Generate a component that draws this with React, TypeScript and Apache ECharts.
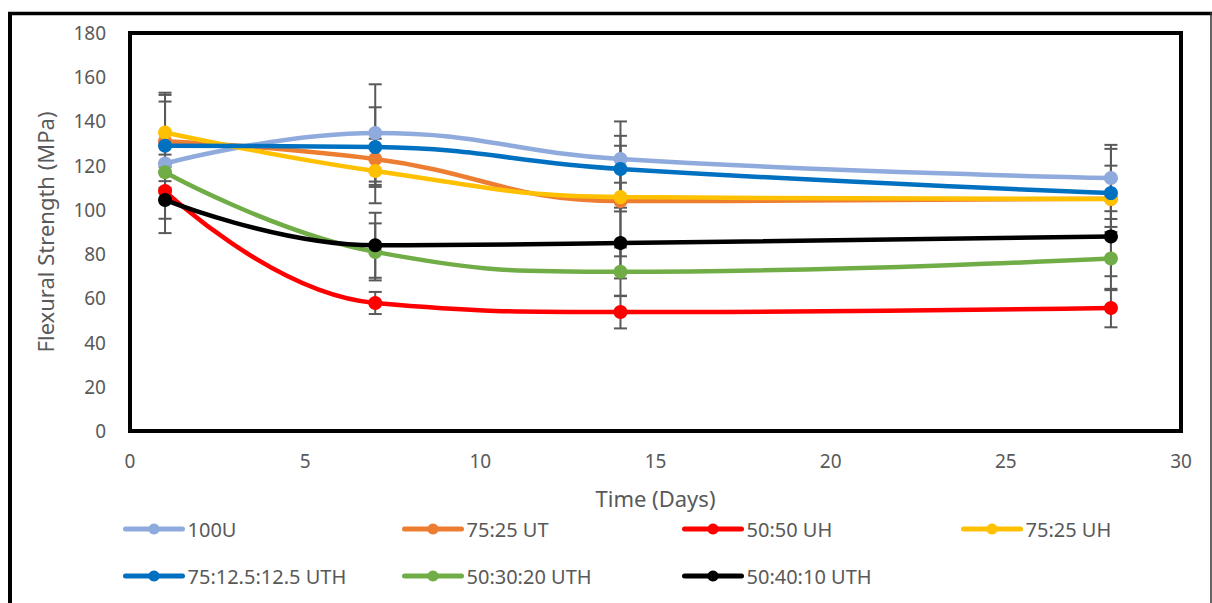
import React, { useEffect, useRef } from "react";
import * as echarts from "echarts";

const days = [1, 7, 14, 28];
const seriesNames = ["100U", "75:25 UT", "50:50 UH", "75:25 UH", "75:12.5:12.5 UTH", "50:30:20 UTH", "50:40:10 UTH"];
const colors = ["#8FAADC", "#ED7D31", "#FF0000", "#FFC000", "#0070C0", "#70AD47", "#000000"];

const s100U = [121, 134.8, 123, 114.4];
const s7525UT = [131, 123, 104, 105];
const s5050UH = [108.5, 57.9, 53.8, 55.6];
const s7525UH = [135, 117.6, 105.8, 104.9];
const s75125UTH = [129, 128.4, 118.5, 107.6];
const s503020UTH = [117, 81, 72, 78];
const s504010UTH = [104.5, 84, 85, 88];

const e100U = [8, 22, 17, 15];
const e7525UT = [21, 11.7, 25, 15];
const e5050UH = [12.5, 5, 7.4, 8.7];
const e7525UH = [18, 14.6, 6.5, 9];
const e75125UTH = [20, 18, 15, 20];
const e503020UTH = [8, 12.9, 11, 14.3];
const e504010UTH = [15, 14.7, 16, 18];

const values = [s100U, s7525UT, s5050UH, s7525UH, s75125UTH, s503020UTH, s504010UTH];
const errors = [e100U, e7525UT, e5050UH, e7525UH, e75125UTH, e503020UTH, e504010UTH];

const yTicks = { min: 0, max: 180, interval: 20 };
const xTicks = { min: 0, max: 30, interval: 5 };

const legendPos = [
  [123, 519], [402, 519], [682, 519], [961, 519],
  [123, 566], [402, 566], [682, 566],
];

export default function App() {
  const ref = useRef<HTMLDivElement>(null);
  useEffect(() => {
    document.body.style.margin = "0";
    const chart = echarts.init(ref.current!, undefined, { renderer: "svg" });
    const font = "Noto Sans";
    const textColor = "#595959";
    const lineSeries: any[] = seriesNames.map((name, i) => ({
      name,
      type: "line",
      smooth: 0.45,
      data: days.map((d, j) => [d, values[i][j]]),
      symbol: "circle",
      symbolSize: 14,
      lineStyle: { width: 4.5, color: colors[i] },
      itemStyle: { color: colors[i] },
      z: 3 + i,
    }));
    const errSeries: any[] = seriesNames.map((name, i) => ({
      name: "err " + name,
      type: "custom",
      silent: true,
      z: 2,
      encode: { x: 0, y: 1 },
      data: days.map((d, j) => [d, values[i][j], errors[i][j]]),
      renderItem: (params: any, api: any) => {
        const x = api.value(0);
        const y = api.value(1);
        const e = api.value(2);
        const top = api.coord([x, y + e]);
        const bot = api.coord([x, y - e]);
        const hw = 6.5;
        const st = { stroke: "#595959", lineWidth: 2 };
        return {
          type: "group",
          children: [
            { type: "line", shape: { x1: top[0], y1: top[1], x2: bot[0], y2: bot[1] }, style: st },
            { type: "line", shape: { x1: top[0] - hw, y1: top[1], x2: top[0] + hw, y2: top[1] }, style: st },
            { type: "line", shape: { x1: bot[0] - hw, y1: bot[1], x2: bot[0] + hw, y2: bot[1] }, style: st },
          ],
        };
      },
    }));
    const legends = seriesNames.map((name, i) => ({
      data: [name],
      left: legendPos[i][0],
      top: legendPos[i][1],
      itemWidth: 57,
      itemHeight: 14,
      padding: 0,
      lineStyle: { width: 5, cap: "round" },
      textStyle: { fontFamily: font, fontSize: 20, color: textColor },
      selectedMode: false,
    }));
    chart.setOption({
      animation: false,
      backgroundColor: "#fff",
      grid: {
        left: 130, top: 33, right: 31, bottom: 172,
        show: true, borderColor: "#000", borderWidth: 4,
      },
      xAxis: {
        type: "value",
        ...xTicks,
        name: "Time (Days)",
        nameLocation: "middle",
        nameGap: 56,
        nameTextStyle: { fontFamily: font, fontSize: 22, color: textColor },
        axisLine: { show: false },
        axisTick: { show: false },
        splitLine: { show: false },
        axisLabel: { fontFamily: font, fontSize: 19, color: textColor, margin: 20 },
      },
      yAxis: {
        type: "value",
        ...yTicks,
        name: "Flexural Strength (MPa)",
        nameLocation: "middle",
        nameGap: 74,
        nameTextStyle: { fontFamily: font, fontSize: 22, color: textColor },
        axisLine: { show: false },
        axisTick: { show: false },
        splitLine: { show: false },
        axisLabel: { fontFamily: font, fontSize: 19, color: textColor, margin: 24 },
      },
      legend: legends,
      graphic: [
        { type: "line", shape: { x1: 10, y1: 13, x2: 10, y2: 610 }, style: { stroke: "#000", lineWidth: 4 } },
        { type: "line", shape: { x1: 8, y1: 13.5, x2: 1212, y2: 13.5 }, style: { stroke: "#000", lineWidth: 3.5 } },
        { type: "line", shape: { x1: 1211, y1: 12, x2: 1211, y2: 610 }, style: { stroke: "#333", lineWidth: 1.5 } },
      ],
      series: [...errSeries, ...lineSeries],
    });
    return () => chart.dispose();
  }, []);
  return <div ref={ref} style={{ width: 1212, height: 603 }} />;
}
